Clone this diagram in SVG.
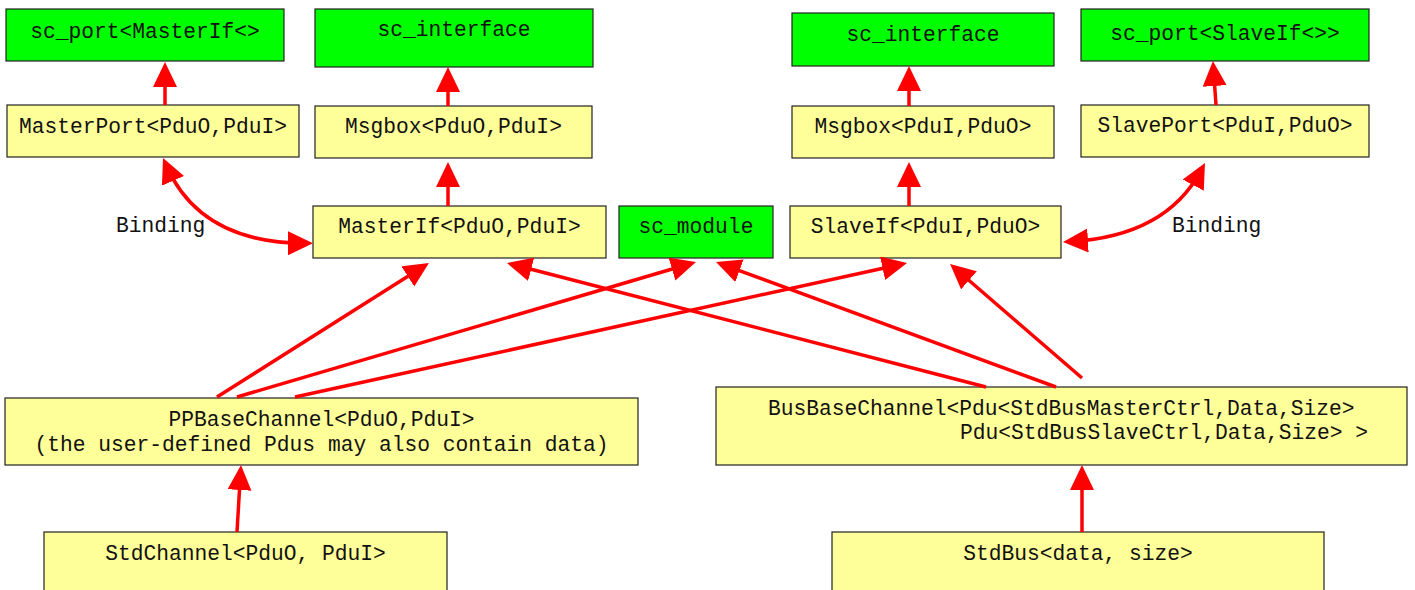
<svg xmlns="http://www.w3.org/2000/svg" width="1415" height="590" viewBox="0 0 1415 590">
  <style>
    .box { stroke: #222; stroke-width: 1.2; }
    .lib { fill: #00ff00; }
    .cls { fill: #ffff99; }
    text { font-family: "Liberation Mono", "DejaVu Sans Mono", monospace; font-size: 21.25px; fill: #111; }
    .c { text-anchor: middle; }
    .edge { fill: none; stroke: #ff0000; stroke-width: 3.5; }
  </style>
  <defs>
    <marker id="arrow" markerUnits="userSpaceOnUse" markerWidth="26" markerHeight="26" refX="17" refY="12" orient="auto-start-reverse">
      <path d="M0,0 L25,12 L0,24 Z" fill="#ff0000"/>
    </marker>
  </defs>
  <rect width="1415" height="590" fill="#ffffff"/>

  <!-- library classes (green) -->
  <g id="sc_port_master">
    <rect class="box lib" x="6" y="9" width="278" height="52"/>
    <text class="c" x="145" y="38">sc_port&lt;MasterIf&lt;&gt;</text>
  </g>
  <g id="sc_interface_left">
    <rect class="box lib" x="315" y="9" width="278" height="58"/>
    <text class="c" x="454" y="36">sc_interface</text>
  </g>
  <g id="sc_interface_right">
    <rect class="box lib" x="792" y="13" width="262" height="53"/>
    <text class="c" x="923" y="41">sc_interface</text>
  </g>
  <g id="sc_port_slave">
    <rect class="box lib" x="1081" y="9" width="288" height="52"/>
    <text class="c" x="1225" y="40">sc_port&lt;SlaveIf&lt;&gt;&gt;</text>
  </g>

  <!-- ports and message boxes -->
  <g id="master_port">
    <rect class="box cls" x="7" y="105" width="292" height="52"/>
    <text class="c" x="153" y="133">MasterPort&lt;PduO,PduI&gt;</text>
  </g>
  <g id="msgbox_left">
    <rect class="box cls" x="315" y="106" width="277" height="52"/>
    <text class="c" x="453.5" y="133">Msgbox&lt;PduO,PduI&gt;</text>
  </g>
  <g id="msgbox_right">
    <rect class="box cls" x="792" y="106" width="262" height="52"/>
    <text class="c" x="923" y="133">Msgbox&lt;PduI,PduO&gt;</text>
  </g>
  <g id="slave_port">
    <rect class="box cls" x="1081" y="105" width="288" height="52"/>
    <text class="c" x="1225" y="132">SlavePort&lt;PduI,PduO&gt;</text>
  </g>

  <!-- interfaces and module -->
  <g id="master_if">
    <rect class="box cls" x="313" y="206" width="293" height="52"/>
    <text class="c" x="459.5" y="233">MasterIf&lt;PduO,PduI&gt;</text>
  </g>
  <g id="sc_module">
    <rect class="box lib" x="619" y="206" width="154" height="52"/>
    <text class="c" x="696" y="233">sc_module</text>
  </g>
  <g id="slave_if">
    <rect class="box cls" x="790" y="206" width="271" height="52"/>
    <text class="c" x="925.5" y="233">SlaveIf&lt;PduI,PduO&gt;</text>
  </g>

  <!-- channels -->
  <g id="pp_base_channel">
    <rect class="box cls" x="5" y="398" width="633" height="67"/>
    <text class="c" x="321.5" y="426">PPBaseChannel&lt;PduO,PduI&gt;</text>
    <text class="c" x="321.5" y="451">(the user-defined Pdus may also contain data)</text>
  </g>
  <g id="bus_base_channel">
    <rect class="box cls" x="716" y="387" width="691" height="78"/>
    <text x="768" y="415">BusBaseChannel&lt;Pdu&lt;StdBusMasterCtrl,Data,Size&gt;</text>
    <text x="960" y="439">Pdu&lt;StdBusSlaveCtrl,Data,Size&gt; &gt;</text>
  </g>
  <g id="std_channel">
    <rect class="box cls" x="44" y="532" width="403" height="62"/>
    <text class="c" x="245.5" y="560">StdChannel&lt;PduO, PduI&gt;</text>
  </g>
  <g id="std_bus">
    <rect class="box cls" x="832" y="532" width="492" height="62"/>
    <text class="c" x="1078" y="560">StdBus&lt;data, size&gt;</text>
  </g>

  <!-- binding labels -->
  <text id="binding_left" x="116" y="232">Binding</text>
  <text id="binding_right" x="1172" y="232">Binding</text>

  <!-- connectors -->
  <g id="connectors">
    <path class="edge" d="M165,105 L165,70" marker-end="url(#arrow)"/>
    <path class="edge" d="M448,106 L448,75" marker-end="url(#arrow)"/>
    <path class="edge" d="M909,106 L909,74" marker-end="url(#arrow)"/>
    <path class="edge" d="M1216,105 L1213.5,69" marker-end="url(#arrow)"/>
    <path class="edge" d="M448,206 L448,170" marker-end="url(#arrow)"/>
    <path class="edge" d="M909,206 L909,170" marker-end="url(#arrow)"/>

    <!-- bindings -->
    <path class="edge" d="M166.2,165.3 Q200,243 305,243.3" marker-start="url(#arrow)" marker-end="url(#arrow)"/>
    <path class="edge" d="M1071,241.5 Q1166,236 1201.2,170.1" marker-start="url(#arrow)" marker-end="url(#arrow)"/>

    <!-- inheritance from PPBaseChannel -->
    <path class="edge" d="M217,397 L422.2,267.3" marker-end="url(#arrow)"/>
    <path class="edge" d="M237,397 L688.3,264.3" marker-end="url(#arrow)"/>
    <path class="edge" d="M295,397 L899.2,264.7" marker-end="url(#arrow)"/>

    <!-- inheritance from BusBaseChannel -->
    <path class="edge" d="M986,387 L514.7,265" marker-end="url(#arrow)"/>
    <path class="edge" d="M1056,387 L723.5,264.8" marker-end="url(#arrow)"/>
    <path class="edge" d="M1082,378 L956.1,269.2" marker-end="url(#arrow)"/>

    <!-- concrete channels -->
    <path class="edge" d="M237,532 L240.5,473" marker-end="url(#arrow)"/>
    <path class="edge" d="M1082,532 L1082,473" marker-end="url(#arrow)"/>
  </g>
</svg>
